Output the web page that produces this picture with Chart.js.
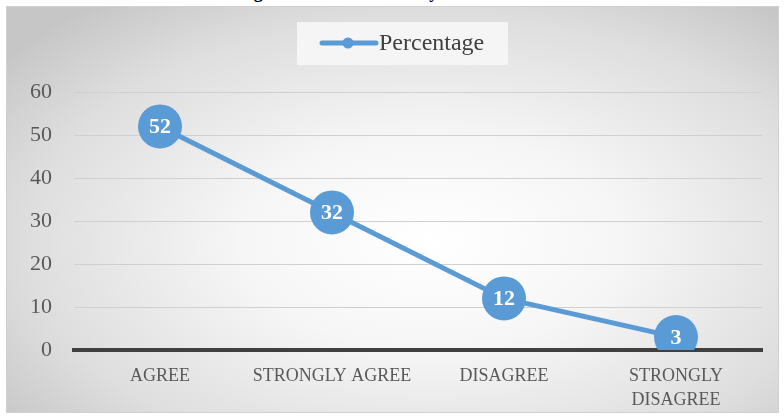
<!DOCTYPE html>
<html>
<head>
<meta charset="utf-8">
<script src="https://cdn.jsdelivr.net/npm/chart.js@4.4.1/dist/chart.umd.min.js"></script>
<style>
  html, body { margin: 0; padding: 0; background: #fff; }
  body { width: 784px; height: 418px; position: relative; overflow: hidden; }
  #title {
    position: absolute; left: 0; top: -18px; width: 784px; text-align: center;
    font: bold 18px "Liberation Serif", serif; color: #000;
  }
  #frame {
    position: absolute; left: 6px; top: 6px; width: 771px; height: 405px;
    border: 1px solid #d0d0d0;
    background: radial-gradient(ellipse 70% 75% at 55% 58%, #ffffff 0%, #f6f6f6 35%, #dedede 75%, #c6c6c6 100%);
  }
  #wrap { position: absolute; left: 0; top: 0; width: 784px; height: 418px; }
  canvas { display: block; }
</style>
</head>
<body>
<div id="title">Figure 3: Cost and Money and Situation</div>
<div id="frame"></div>
<div id="wrap"><canvas id="lineChart" width="784" height="418"></canvas></div>
<script>
  // data
  const categories = ['AGREE', 'STRONGLY AGREE', 'DISAGREE', ['STRONGLY', 'DISAGREE']];
  const percentage = [52, 32, 12, 3];
  const seriesName = 'Percentage';
  const yTicks = [0, 10, 20, 30, 40, 50, 60];

  const blue = '#5b9bd5';

  // white numbers inside the points
  const pointLabels = {
    id: 'pointLabels',
    afterDatasetsDraw(chart) {
      const ctx = chart.ctx;
      const meta = chart.getDatasetMeta(0);
      ctx.save();
      ctx.fillStyle = '#ffffff';
      ctx.font = 'bold 22px "Liberation Serif"';
      ctx.textAlign = 'center';
      ctx.textBaseline = 'middle';
      meta.data.forEach((pt, i) => {
        ctx.fillText(String(percentage[i]), pt.x, pt.y + 1);
      });
      ctx.restore();
    }
  };

  // legend box at the top, like the office chart
  const boxLegend = {
    id: 'boxLegend',
    afterDraw(chart) {
      const ctx = chart.ctx;
      ctx.save();
      ctx.fillStyle = 'rgba(246,246,246,0.95)';
      ctx.fillRect(297, 22, 211, 43);
      ctx.strokeStyle = blue;
      ctx.lineWidth = 5;
      ctx.lineCap = 'round';
      ctx.beginPath();
      ctx.moveTo(322, 43);
      ctx.lineTo(376, 43);
      ctx.stroke();
      ctx.fillStyle = blue;
      ctx.beginPath();
      ctx.arc(348, 43, 5.5, 0, Math.PI * 2);
      ctx.fill();
      ctx.fillStyle = '#404040';
      ctx.font = '24px "Liberation Serif"';
      ctx.textBaseline = 'middle';
      ctx.fillText(seriesName, 379, 44);
      ctx.restore();
    }
  };

  const ctx = document.getElementById('lineChart').getContext('2d');
  const lineChart = new Chart(ctx, {
    type: 'line',
    data: {
      labels: categories,
      datasets: [
        {
          label: seriesName,
          data: percentage,
          borderColor: blue,
          backgroundColor: blue,
          borderWidth: 5,
          pointRadius: 22,
          pointHoverRadius: 22,
          pointBorderWidth: 0,
          pointBackgroundColor: blue,
          tension: 0
        }
      ]
    },
    options: {
      responsive: false,
      animation: false,
      events: [],
      layout: {
        padding: { left: 0, right: 16, top: 92, bottom: 0 }
      },
      plugins: {
        legend: { display: false },
        tooltip: { enabled: false }
      },
      scales: {
        x: {
          offset: true,
          grid: { display: false },
          border: { display: true, color: '#404040', width: 4 },
          ticks: {
            color: '#595959',
            padding: 7,
            maxRotation: 0,
            font: { family: 'Liberation Serif', size: 18, lineHeight: 1.3 }
          },
          afterFit(scale) {
            scale.height = 68;
            scale.paddingLeft = 0;
            scale.paddingRight = 0;
          }
        },
        y: {
          min: 0,
          max: 60,
          afterBuildTicks(scale) { scale.ticks = yTicks.map(v => ({ value: v })); },
          grid: { color: '#d0d0d0', lineWidth: 1, drawTicks: false },
          border: { display: false },
          ticks: {
            color: '#595959',
            padding: 22,
            font: { family: 'Liberation Serif', size: 22 }
          },
          afterFit(scale) { scale.width = 74; }
        }
      }
    },
    plugins: [pointLabels, boxLegend]
  });
</script>
</body>
</html>
